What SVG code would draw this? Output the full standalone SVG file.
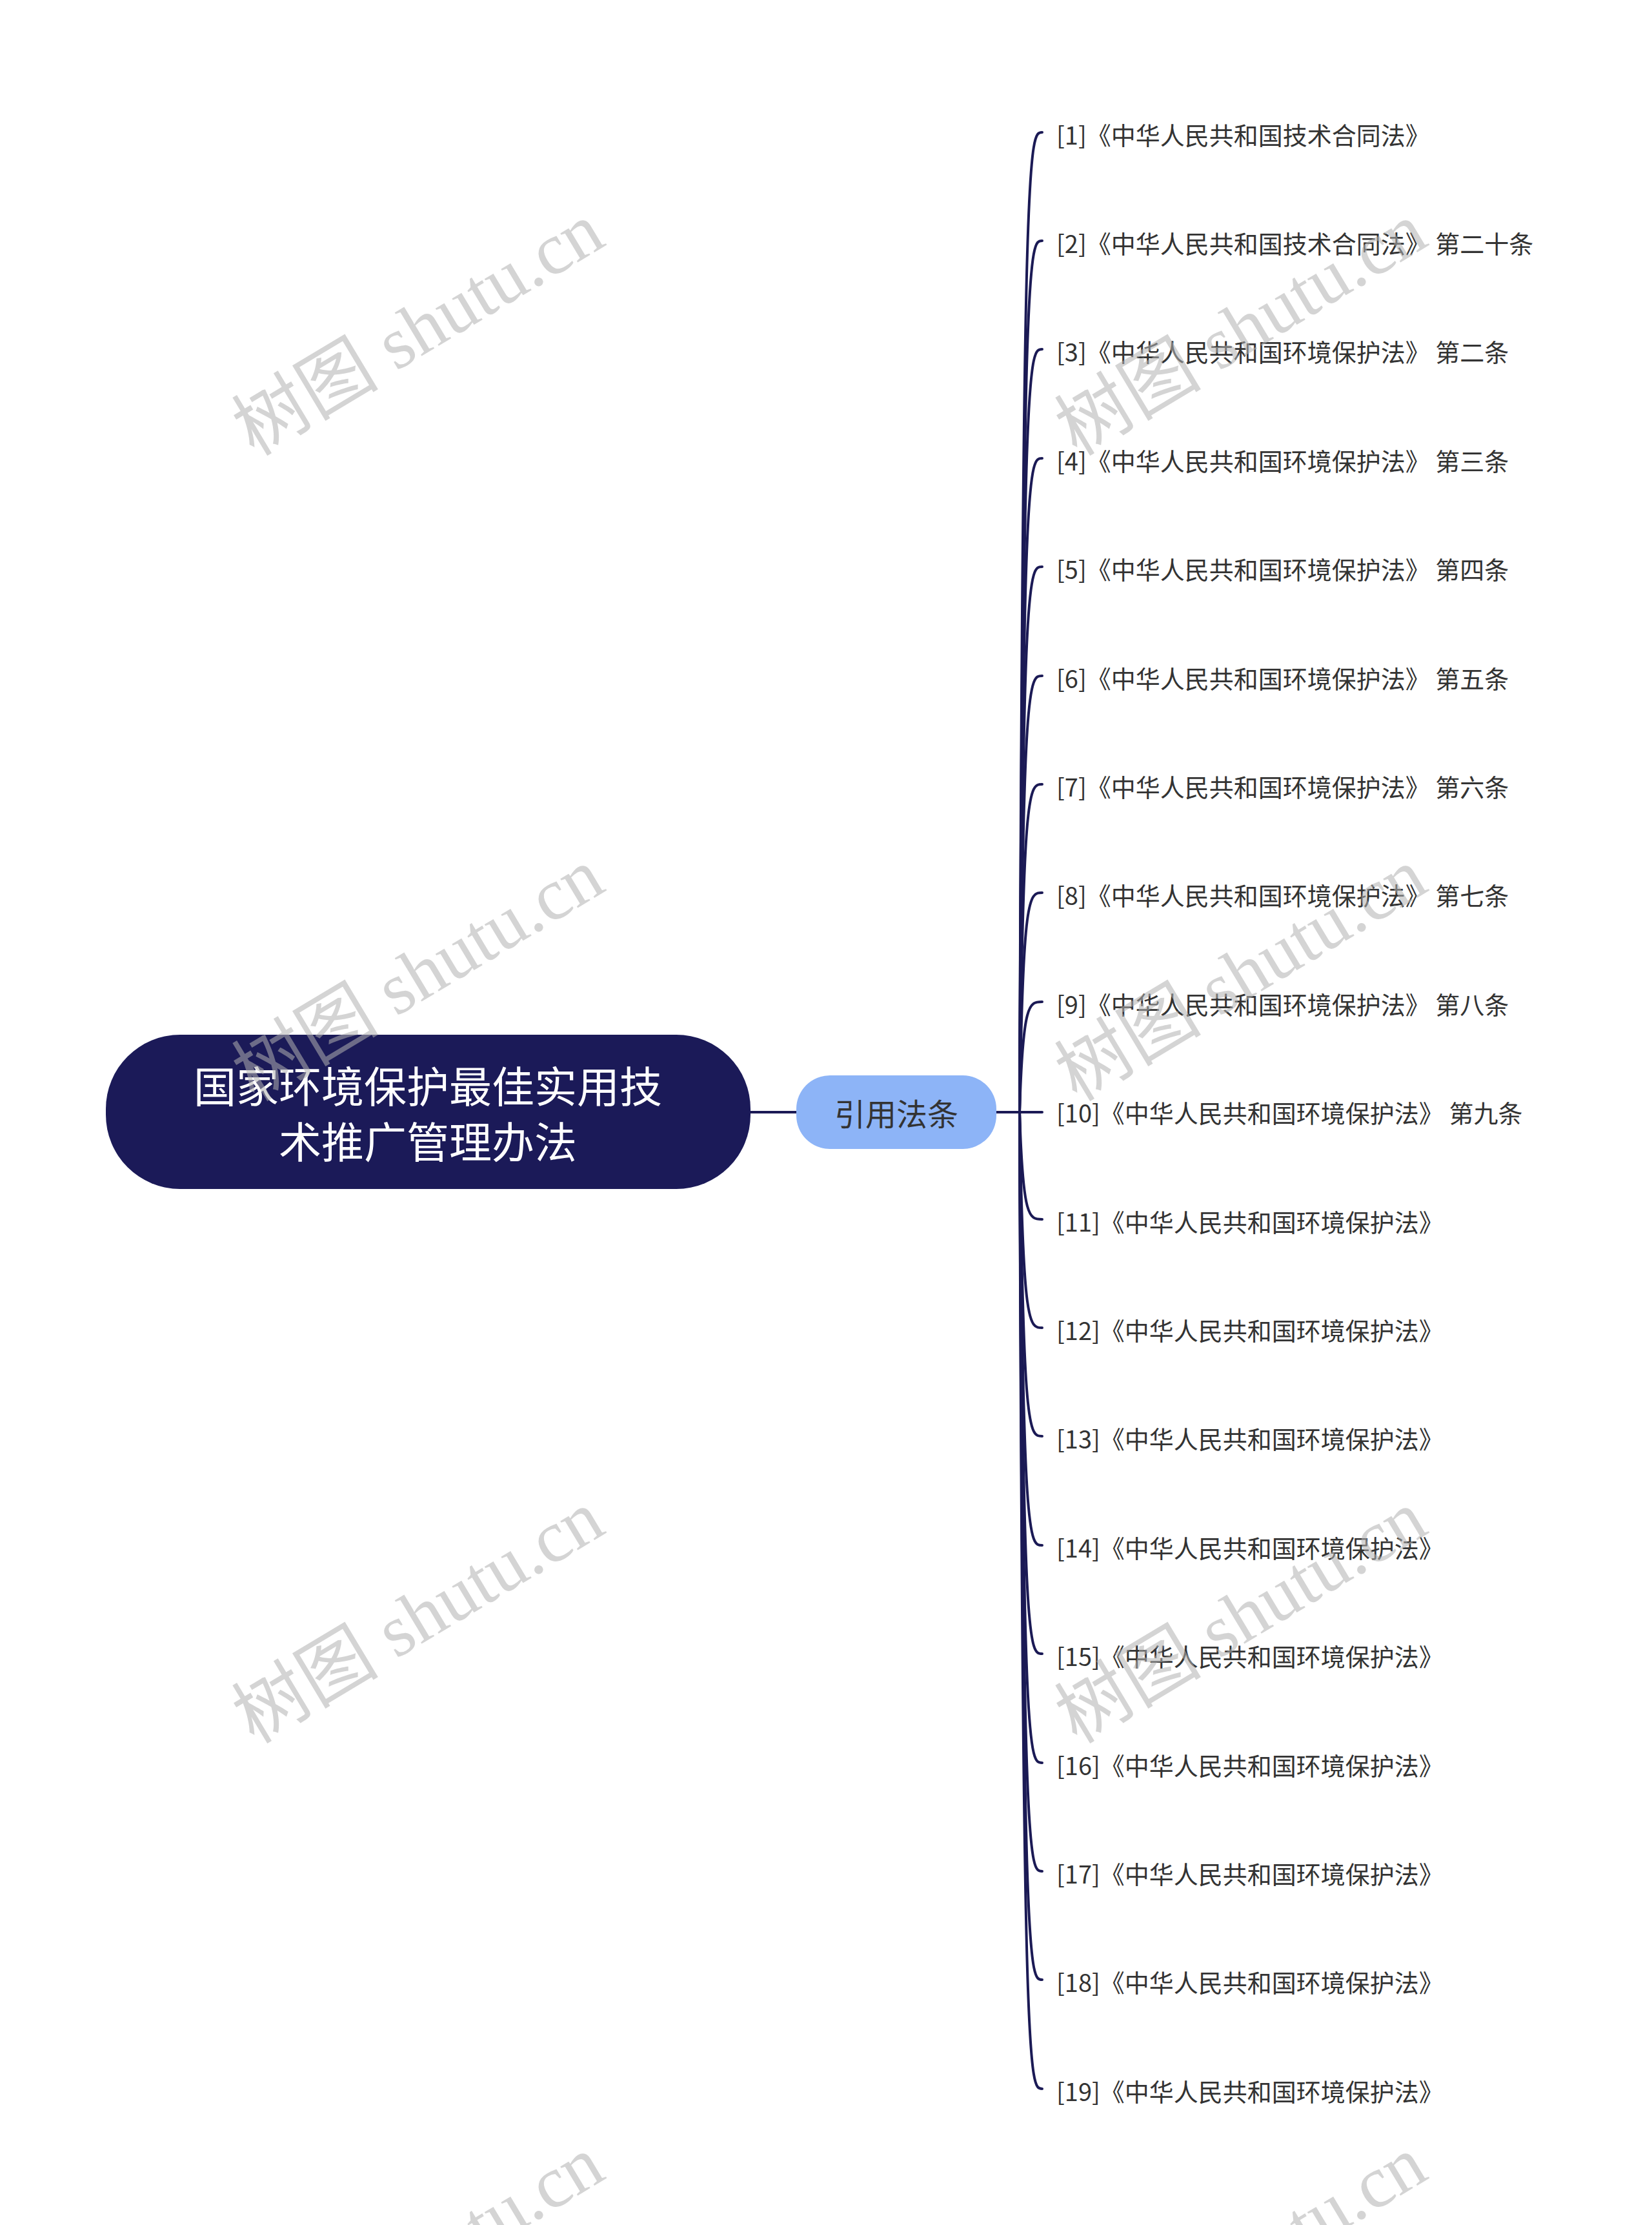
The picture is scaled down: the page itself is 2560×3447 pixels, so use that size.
<svg xmlns="http://www.w3.org/2000/svg" width="2560" height="3447" viewBox="0 0 2560 3447">
<style>
.leaf{font-family:"Noto Sans CJK SC","Noto Sans",sans-serif;font-size:38px;fill:#333333;dominant-baseline:central}
.conn{fill:none;stroke:#1b1a55;stroke-width:4;stroke-linecap:round}
.wm{font-family:"Liberation Serif","Noto Sans CJK SC",serif;font-size:114px;fill:#b0b0b0;fill-opacity:0.55;text-anchor:middle;dominant-baseline:central}
</style>
<rect width="2560" height="3447" fill="#ffffff"/>
<g id="connectors">
<line class="conn" x1="1163" y1="1723" x2="1234" y2="1723"/>
<line class="conn" x1="1544" y1="1723" x2="1615" y2="1723"/>
<path class="conn" d="M1580 1723 C1585 205,1595 205,1615 205"/>
<path class="conn" d="M1580 1723 C1585 373,1595 373,1615 373"/>
<path class="conn" d="M1580 1723 C1585 541,1595 541,1615 541"/>
<path class="conn" d="M1580 1723 C1585 710,1595 710,1615 710"/>
<path class="conn" d="M1580 1723 C1585 878,1595 878,1615 878"/>
<path class="conn" d="M1580 1723 C1585 1047,1595 1047,1615 1047"/>
<path class="conn" d="M1580 1723 C1585 1215,1595 1215,1615 1215"/>
<path class="conn" d="M1580 1723 C1585 1383,1595 1383,1615 1383"/>
<path class="conn" d="M1580 1723 C1585 1552,1595 1552,1615 1552"/>
<path class="conn" d="M1580 1723 C1585 1889,1595 1889,1615 1889"/>
<path class="conn" d="M1580 1723 C1585 2057,1595 2057,1615 2057"/>
<path class="conn" d="M1580 1723 C1585 2225,1595 2225,1615 2225"/>
<path class="conn" d="M1580 1723 C1585 2394,1595 2394,1615 2394"/>
<path class="conn" d="M1580 1723 C1585 2562,1595 2562,1615 2562"/>
<path class="conn" d="M1580 1723 C1585 2731,1595 2731,1615 2731"/>
<path class="conn" d="M1580 1723 C1585 2899,1595 2899,1615 2899"/>
<path class="conn" d="M1580 1723 C1585 3067,1595 3067,1615 3067"/>
<path class="conn" d="M1580 1723 C1585 3236,1595 3236,1615 3236"/>
</g>
<g id="root">
<rect x="164" y="1603" width="999" height="239" rx="115" ry="115" fill="#1b1a58"/>
<text x="663" y="1679" font-family="Noto Sans CJK SC, sans-serif" font-size="66" fill="#ffffff" text-anchor="middle" dominant-baseline="central">国家环境保护最佳实用技</text>
<text x="663" y="1765" font-family="Noto Sans CJK SC, sans-serif" font-size="66" fill="#ffffff" text-anchor="middle" dominant-baseline="central">术推广管理办法</text>
</g>
<g id="cite">
<rect x="1234" y="1666" width="310" height="114" rx="52" ry="52" fill="#8db4f7"/>
<text x="1389" y="1723" font-family="Noto Sans CJK SC, sans-serif" font-size="48" fill="#333333" text-anchor="middle" dominant-baseline="central">引用法条</text>
</g>
<g id="leaf1"><text class="leaf" x="1637" y="207">[1]《中华人民共和国技术合同法》</text></g>
<g id="leaf2"><text class="leaf" x="1637" y="375">[2]《中华人民共和国技术合同法》 第二十条</text></g>
<g id="leaf3"><text class="leaf" x="1637" y="543">[3]《中华人民共和国环境保护法》 第二条</text></g>
<g id="leaf4"><text class="leaf" x="1637" y="712">[4]《中华人民共和国环境保护法》 第三条</text></g>
<g id="leaf5"><text class="leaf" x="1637" y="880">[5]《中华人民共和国环境保护法》 第四条</text></g>
<g id="leaf6"><text class="leaf" x="1637" y="1049">[6]《中华人民共和国环境保护法》 第五条</text></g>
<g id="leaf7"><text class="leaf" x="1637" y="1217">[7]《中华人民共和国环境保护法》 第六条</text></g>
<g id="leaf8"><text class="leaf" x="1637" y="1385">[8]《中华人民共和国环境保护法》 第七条</text></g>
<g id="leaf9"><text class="leaf" x="1637" y="1554">[9]《中华人民共和国环境保护法》 第八条</text></g>
<g id="leaf10"><text class="leaf" x="1637" y="1722">[10]《中华人民共和国环境保护法》 第九条</text></g>
<g id="leaf11"><text class="leaf" x="1637" y="1891">[11]《中华人民共和国环境保护法》</text></g>
<g id="leaf12"><text class="leaf" x="1637" y="2059">[12]《中华人民共和国环境保护法》</text></g>
<g id="leaf13"><text class="leaf" x="1637" y="2227">[13]《中华人民共和国环境保护法》</text></g>
<g id="leaf14"><text class="leaf" x="1637" y="2396">[14]《中华人民共和国环境保护法》</text></g>
<g id="leaf15"><text class="leaf" x="1637" y="2564">[15]《中华人民共和国环境保护法》</text></g>
<g id="leaf16"><text class="leaf" x="1637" y="2733">[16]《中华人民共和国环境保护法》</text></g>
<g id="leaf17"><text class="leaf" x="1637" y="2901">[17]《中华人民共和国环境保护法》</text></g>
<g id="leaf18"><text class="leaf" x="1637" y="3069">[18]《中华人民共和国环境保护法》</text></g>
<g id="leaf19"><text class="leaf" x="1637" y="3238">[19]《中华人民共和国环境保护法》</text></g>
<g id="watermarks">
<text class="wm" transform="rotate(-31 648 510)" x="648" y="510">树图 shutu.cn</text>
<text class="wm" transform="rotate(-31 648 1510)" x="648" y="1510">树图 shutu.cn</text>
<text class="wm" transform="rotate(-31 648 2505)" x="648" y="2505">树图 shutu.cn</text>
<text class="wm" transform="rotate(-31 648 3505)" x="648" y="3505">树图 shutu.cn</text>
<text class="wm" transform="rotate(-31 1923 510)" x="1923" y="510">树图 shutu.cn</text>
<text class="wm" transform="rotate(-31 1923 1510)" x="1923" y="1510">树图 shutu.cn</text>
<text class="wm" transform="rotate(-31 1923 2505)" x="1923" y="2505">树图 shutu.cn</text>
<text class="wm" transform="rotate(-31 1923 3505)" x="1923" y="3505">树图 shutu.cn</text>
</g>
</svg>
